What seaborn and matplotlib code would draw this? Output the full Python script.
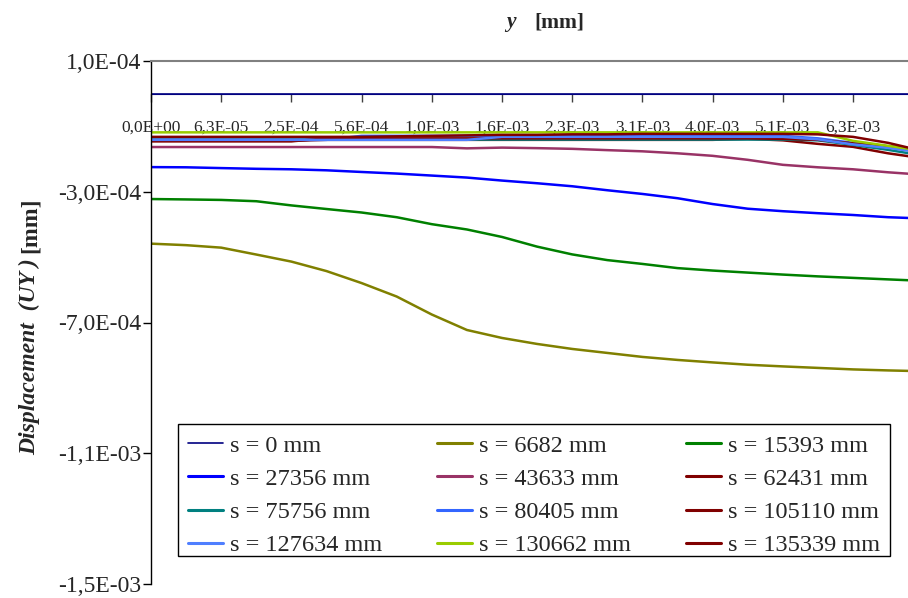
import matplotlib
matplotlib.use("Agg")
import matplotlib.pyplot as plt
import seaborn as sns
import pandas as pd
from matplotlib.lines import Line2D
from matplotlib.patches import Rectangle

# ---- data ----
cat_index = [0, 5, 10, 15, 20, 25, 30, 35, 40, 45, 50, 55, 60, 65, 70, 75, 80, 85, 90, 95, 100, 105, 108]
x_tick_pos = [0, 10, 20, 30, 40, 50, 60, 70, 80, 90, 100]
x_tick_labels = ["0,0E+00", "6,3E-05", "2,5E-04", "5,6E-04", "1,0E-03", "1,6E-03",
                 "2,3E-03", "3,1E-03", "4,0E-03", "5,1E-03", "6,3E-03"]
y_ticks = [1.0e-4, -3.0e-4, -7.0e-4, -1.1e-3, -1.5e-3]
y_tick_labels = ["1,0E-04", "-3,0E-04", "-7,0E-04", "-1,1E-03", "-1,5E-03"]

s_0 = [0.0, 0.0, 0.0, 0.0, 0.0, 0.0, 0.0, 0.0, 0.0, 0.0, 0.0, 0.0, 0.0, 0.0, 0.0, 0.0,
       0.0, 0.0, 0.0, 0.0, 0.0, 0.0, 0.0]
s_6682 = [-4.588e-4, -4.634e-4, -4.710e-4, -4.921e-4, -5.137e-4, -5.427e-4, -5.794e-4, -6.206e-4,
          -6.756e-4, -7.229e-4, -7.473e-4, -7.656e-4, -7.809e-4, -7.931e-4, -8.053e-4, -8.145e-4,
          -8.221e-4, -8.292e-4, -8.343e-4, -8.389e-4, -8.435e-4, -8.466e-4, -8.481e-4]
s_15393 = [-3.223e-4, -3.235e-4, -3.250e-4, -3.290e-4, -3.418e-4, -3.528e-4, -3.635e-4, -3.779e-4,
           -3.992e-4, -4.154e-4, -4.383e-4, -4.679e-4, -4.917e-4, -5.091e-4, -5.208e-4, -5.336e-4,
           -5.411e-4, -5.473e-4, -5.534e-4, -5.589e-4, -5.635e-4, -5.681e-4, -5.708e-4]
s_27356 = [-2.246e-4, -2.252e-4, -2.276e-4, -2.298e-4, -2.313e-4, -2.344e-4, -2.395e-4, -2.444e-4,
           -2.505e-4, -2.566e-4, -2.658e-4, -2.740e-4, -2.832e-4, -2.954e-4, -3.067e-4, -3.198e-4,
           -3.376e-4, -3.519e-4, -3.595e-4, -3.656e-4, -3.711e-4, -3.779e-4, -3.803e-4]
s_43633 = [-1.632e-4, -1.632e-4, -1.632e-4, -1.632e-4, -1.632e-4, -1.632e-4, -1.632e-4, -1.632e-4,
           -1.632e-4, -1.672e-4, -1.650e-4, -1.666e-4, -1.687e-4, -1.727e-4, -1.763e-4, -1.824e-4,
           -1.901e-4, -2.023e-4, -2.176e-4, -2.252e-4, -2.313e-4, -2.405e-4, -2.450e-4]
s_62431 = [-1.443e-4, -1.443e-4, -1.443e-4, -1.443e-4, -1.443e-4, -1.412e-4, -1.412e-4, -1.412e-4,
           -1.412e-4, -1.412e-4, -1.412e-4, -1.412e-4, -1.412e-4, -1.412e-4, -1.412e-4, -1.412e-4,
           -1.412e-4, -1.382e-4, -1.427e-4, -1.535e-4, -1.626e-4, -1.824e-4, -1.916e-4]
s_75756 = [-1.403e-4, -1.403e-4, -1.403e-4, -1.403e-4, -1.403e-4, -1.403e-4, -1.403e-4, -1.403e-4,
           -1.403e-4, -1.403e-4, -1.403e-4, -1.403e-4, -1.403e-4, -1.403e-4, -1.403e-4, -1.403e-4,
           -1.403e-4, -1.403e-4, -1.403e-4, -1.427e-4, -1.565e-4, -1.718e-4, -1.824e-4]
s_80405 = [-1.412e-4, -1.412e-4, -1.412e-4, -1.412e-4, -1.412e-4, -1.412e-4, -1.290e-4, -1.290e-4,
           -1.290e-4, -1.290e-4, -1.290e-4, -1.290e-4, -1.290e-4, -1.290e-4, -1.290e-4, -1.290e-4,
           -1.290e-4, -1.290e-4, -1.290e-4, -1.366e-4, -1.504e-4, -1.611e-4, -1.687e-4]
s_105110 = [-1.458e-4, -1.458e-4, -1.458e-4, -1.458e-4, -1.458e-4, -1.366e-4, -1.366e-4, -1.366e-4,
            -1.366e-4, -1.366e-4, -1.366e-4, -1.366e-4, -1.366e-4, -1.366e-4, -1.366e-4, -1.366e-4,
            -1.366e-4, -1.366e-4, -1.382e-4, -1.412e-4, -1.519e-4, -1.611e-4, -1.672e-4]
s_127634 = [-1.412e-4, -1.412e-4, -1.412e-4, -1.412e-4, -1.412e-4, -1.412e-4, -1.412e-4, -1.412e-4,
            -1.412e-4, -1.412e-4, -1.321e-4, -1.321e-4, -1.321e-4, -1.321e-4, -1.321e-4, -1.321e-4,
            -1.321e-4, -1.321e-4, -1.321e-4, -1.397e-4, -1.550e-4, -1.656e-4, -1.748e-4]
s_130662 = [-1.183e-4, -1.183e-4, -1.183e-4, -1.183e-4, -1.183e-4, -1.183e-4, -1.183e-4, -1.183e-4,
            -1.183e-4, -1.183e-4, -1.183e-4, -1.183e-4, -1.183e-4, -1.183e-4, -1.183e-4, -1.183e-4,
            -1.183e-4, -1.183e-4, -1.183e-4, -1.183e-4, -1.443e-4, -1.595e-4, -1.687e-4]
s_135339 = [-1.321e-4, -1.321e-4, -1.321e-4, -1.321e-4, -1.321e-4, -1.321e-4, -1.321e-4, -1.305e-4,
            -1.290e-4, -1.275e-4, -1.260e-4, -1.260e-4, -1.244e-4, -1.244e-4, -1.229e-4, -1.229e-4,
            -1.229e-4, -1.229e-4, -1.229e-4, -1.244e-4, -1.321e-4, -1.504e-4, -1.656e-4]

series_labels = ["s = 0 mm", "s = 6682 mm", "s = 15393 mm", "s = 27356 mm", "s = 43633 mm",
                 "s = 62431 mm", "s = 75756 mm", "s = 80405 mm", "s = 105110 mm",
                 "s = 127634 mm", "s = 130662 mm", "s = 135339 mm"]
series_values = [s_0, s_6682, s_15393, s_27356, s_43633, s_62431, s_75756, s_80405,
                 s_105110, s_127634, s_130662, s_135339]
series_colors = ["#000080", "#808000", "#008000", "#0000FF", "#993366", "#800000",
                 "#008080", "#3366FF", "#800000", "#4F7FFF", "#99CC00", "#800000"]

rows = []
for lab, vals in zip(series_labels, series_values):
    for xi, v in zip(cat_index, vals):
        rows.append({"idx": xi, "uy": v, "series": lab})
df = pd.DataFrame(rows)

# ---- style ----
sns.set_style("white")
plt.rcParams["font.family"] = ["Liberation Serif", "DejaVu Serif"]

fig = plt.figure(figsize=(9.08, 5.98), dpi=100)
ax = fig.add_axes([151 / 908, 1 - 584 / 598, (908 - 151) / 908, (584 - 61) / 598])

palette = dict(zip(series_labels, series_colors))
sns.lineplot(data=df, x="idx", y="uy", hue="series", hue_order=series_labels,
             palette=palette, sort=False, estimator=None, linewidth=1.8,
             legend=False, ax=ax)
ax.lines[0].set_linewidth(1.2)
for ln in ax.lines:
    ln.set_solid_joinstyle("round")

ax.set_xlim(0, (908 - 151) / 7.02)
ax.set_ylim(-1.5e-3, 1.0e-4)
ax.set_xlabel("")
ax.set_ylabel("")

ax.set_yticks(y_ticks)
ax.set_yticklabels(y_tick_labels)
ax.set_xticks(x_tick_pos)
ax.set_xticklabels(x_tick_labels)

ax.spines["right"].set_visible(False)
ax.spines["top"].set_color("#808080")
ax.spines["top"].set_linewidth(1.5)
ax.spines["left"].set_color("black")
ax.spines["left"].set_linewidth(1.0)
ax.spines["bottom"].set_position(("data", 0))
ax.spines["bottom"].set_color("#000080")
ax.spines["bottom"].set_zorder(1)

ax.tick_params(axis="y", direction="out", length=6, width=1, color="black", pad=1,
               left=True, labelsize=17)
ax.tick_params(axis="x", direction="out", length=6, width=1, color="#404040", pad=13,
               bottom=True, labelsize=12.5)

# legend (row-wise order), frame drawn separately
fig.add_artist(Rectangle((178 / 908, 1 - 556 / 598), (890 - 178) / 908, (556 - 424) / 598,
                         transform=fig.transFigure, facecolor="white", edgecolor="black",
                         linewidth=1.0, zorder=4))
handles = [Line2D([0], [0], color=c, lw=(1.2 if i == 0 else 2.2)) for i, c in enumerate(series_colors)]
order = [0, 3, 6, 9, 1, 4, 7, 10, 2, 5, 8, 11]
leg = fig.legend([handles[i] for i in order], [series_labels[i] for i in order],
                 ncol=3, loc="upper left", mode="expand",
                 bbox_to_anchor=(178 / 908, 1 - 556 / 598, (890 - 178) / 908, (556 - 425) / 598),
                 bbox_transform=fig.transFigure, borderaxespad=0, fontsize=17.5,
                 frameon=False, handlelength=1.45, handletextpad=0.3,
                 labelspacing=0.46, borderpad=0.4, columnspacing=1.0)
leg.set_zorder(5)

# titles
fig.text(511 / 908, 1 - 22 / 598, "y", fontsize=15.5, fontweight="bold", fontstyle="italic",
         ha="center", va="center")
fig.text(559 / 908, 1 - 22 / 598, "[mm]", fontsize=15.5, fontweight="bold",
         ha="center", va="center")
t1 = fig.text(30 / 908, 1 - 455 / 598, "Displacement  (UY )", fontsize=17, fontweight="bold",
              fontstyle="italic", rotation=90, ha="center", va="bottom")
fig.canvas.draw()
bb = t1.get_window_extent(renderer=fig.canvas.get_renderer())
top_frac = (bb.y1 + 5) / fig.bbox.height
fig.text(30 / 908, top_frac, "[mm]", fontsize=17, fontweight="bold",
         rotation=90, ha="center", va="bottom")

fig.savefig("out.png", dpi=100)
